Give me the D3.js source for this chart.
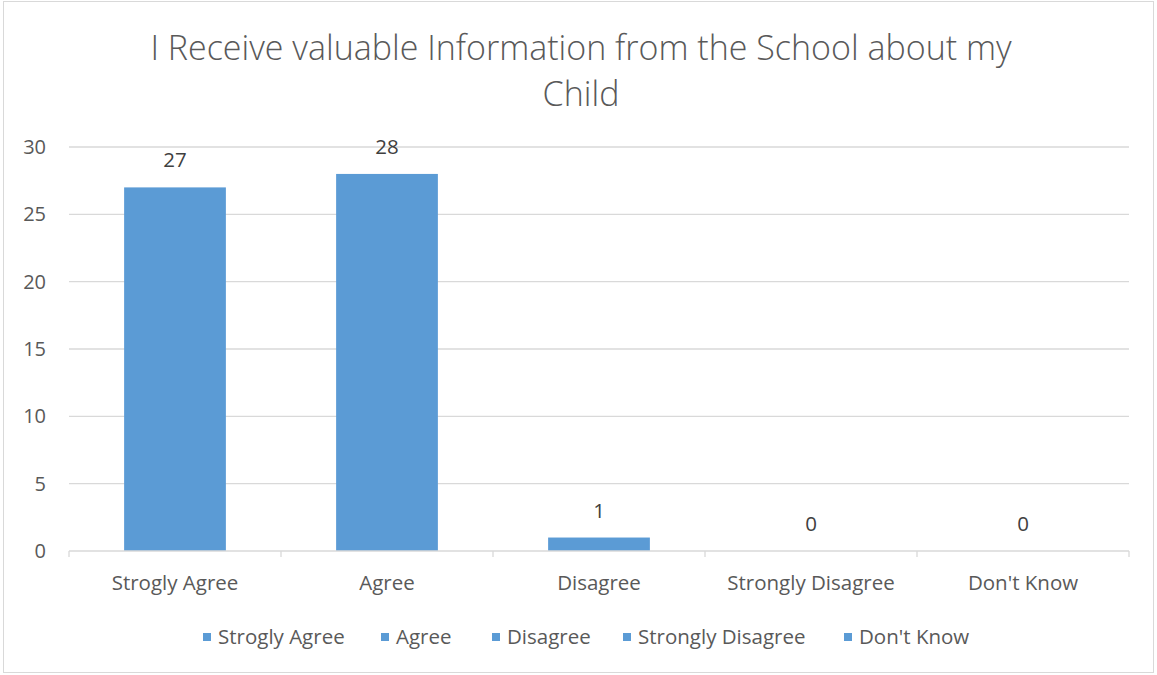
<!DOCTYPE html>
<html><head><meta charset="utf-8">
<script src="https://cdn.jsdelivr.net/npm/d3@7"></script>
<style>body{margin:0;background:#fff;}svg{display:block;}text{font-family:"Open Sans",sans-serif;}</style>
</head><body>
<script>
const categories = ["Strogly Agree","Agree","Disagree","Strongly Disagree","Don't Know"];
const values = [27,28,1,0,0];
const yTicks = [0,5,10,15,20,25,30];
const titleLines = ["I Receive valuable Information from the School about my","Child"];

const W=1157,H=675;
const svg=d3.select("body").append("svg").attr("width",W).attr("height",H);
svg.append("rect").attr("x",3.5).attr("y",1.5).attr("width",1150).attr("height",671).attr("fill","#fff").attr("stroke","#D9D9D9");

const x=d3.scaleBand().domain(categories).range([69,1129]).paddingInner(0.52).paddingOuter(0.26);
const y=d3.scaleLinear().domain([0,30]).range([551,147]);

svg.append("g").selectAll("line").data(yTicks.filter(d=>d>0)).join("line")
  .attr("x1",69).attr("x2",1129).attr("y1",d=>y(d)).attr("y2",d=>y(d)).attr("stroke","#D9D9D9").attr("stroke-width",1.3);

const yAxis=svg.append("g").attr("transform","translate(69,0)").call(d3.axisLeft(y).tickValues(yTicks).tickSize(0).tickPadding(23));
yAxis.select(".domain").remove();
yAxis.selectAll("text").attr("fill","#595959").style("font-size","20px").style("font-family","'Open Sans',sans-serif");

svg.append("g").selectAll("rect").data(values).join("rect")
  .attr("x",(d,i)=>x(categories[i])).attr("width",x.bandwidth())
  .attr("y",d=>y(d)).attr("height",d=>y(0)-y(d)).attr("fill","#5B9BD5");

const xAxis=svg.append("g").attr("transform","translate(0,551)");
xAxis.append("line").attr("x1",69).attr("x2",1129).attr("stroke","#D9D9D9").attr("stroke-width",1.3);
const step=x.step();
const bounds=d3.range(categories.length+1).map(i=>69+i*step);
xAxis.selectAll("line.t").data(bounds).join("line").attr("class","t")
  .attr("x1",d=>d).attr("x2",d=>d).attr("y1",0).attr("y2",6).attr("stroke","#D9D9D9").attr("stroke-width",1.3);
xAxis.selectAll("text").data(categories).join("text")
  .attr("x",d=>x(d)+x.bandwidth()/2).attr("y",39).attr("text-anchor","middle")
  .attr("fill","#595959").style("font-size","20.5px").text(d=>d);

svg.append("g").selectAll("text").data(values).join("text")
  .attr("x",(d,i)=>x(categories[i])+x.bandwidth()/2).attr("y",d=>y(d)-20)
  .attr("text-anchor","middle").attr("fill","#404040").style("font-size","20.5px").text(d=>d);

svg.append("g").selectAll("text").data(titleLines).join("text")
  .attr("x",581).attr("y",(d,i)=>60+i*46).attr("text-anchor","middle")
  .attr("fill","#595959").style("font-size","34px").style("font-weight",300).text(d=>d);

const legX=[203,381,492,623,844];
const leg=svg.append("g").selectAll("g").data(categories).join("g").attr("transform",(d,i)=>`translate(${legX[i]},637)`);
leg.append("rect").attr("x",0).attr("y",-4).attr("width",8).attr("height",8).attr("fill","#5B9BD5");
leg.append("text").attr("x",15).attr("y",7).attr("fill","#595959").style("font-size","20.5px").text(d=>d);
</script>
</body></html>
